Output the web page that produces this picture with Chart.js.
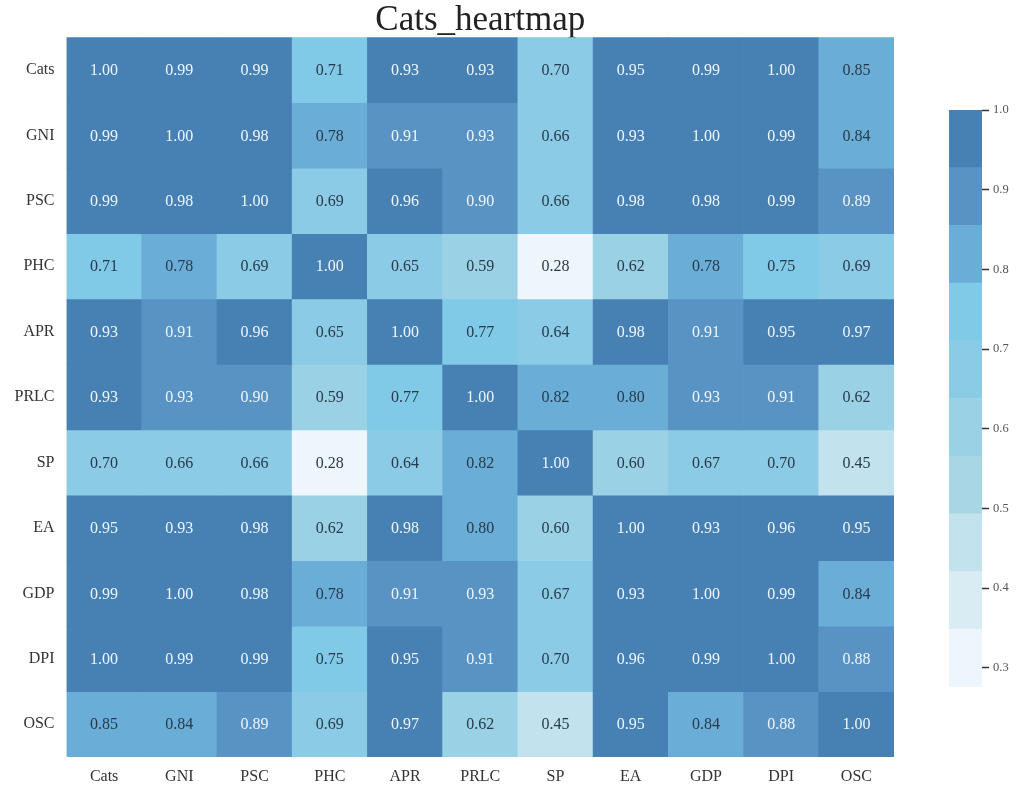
<!DOCTYPE html>
<html>
<head>
<meta charset="utf-8">
<script src="https://cdn.jsdelivr.net/npm/chart.js@4/dist/chart.umd.min.js"></script>
<style>
  html, body { margin: 0; padding: 0; background: #ffffff; }
  #wrap { position: relative; width: 1016px; height: 785px; overflow: hidden; }
  #heat { position: absolute; left: 0; top: 0; }
  #cbar { position: absolute; left: 900px; top: 0; }
</style>
</head>
<body>
<div id="wrap">
  <canvas id="heat" width="1016" height="785"></canvas>
  <canvas id="cbar" width="116" height="785"></canvas>
</div>
<script>
// Variable names (rows top to bottom, columns left to right)
const rowLabels = ['Cats', 'GNI', 'PSC', 'PHC', 'APR', 'PRLC', 'SP', 'EA', 'GDP', 'DPI', 'OSC'];
const colLabels = ['Cats', 'GNI', 'PSC', 'PHC', 'APR', 'PRLC', 'SP', 'EA', 'GDP', 'DPI', 'OSC'];

// Correlation coefficients, one array per row
const rowCats = [1.00, 0.99, 0.99, 0.712, 0.93, 0.93, 0.70, 0.95, 0.99, 1.00, 0.85];
const rowGNI  = [0.99, 1.00, 0.98, 0.784, 0.91, 0.926, 0.66, 0.93, 1.00, 0.99, 0.84];
const rowPSC  = [0.99, 0.98, 1.00, 0.69, 0.96, 0.90, 0.66, 0.98, 0.98, 0.99, 0.89];
const rowPHC  = [0.712, 0.784, 0.69, 1.00, 0.65, 0.59, 0.28, 0.62, 0.784, 0.75, 0.69];
const rowAPR  = [0.93, 0.91, 0.96, 0.65, 1.00, 0.77, 0.64, 0.98, 0.91, 0.95, 0.97];
const rowPRLC = [0.93, 0.926, 0.90, 0.59, 0.77, 1.00, 0.82, 0.80, 0.926, 0.91, 0.62];
const rowSP   = [0.70, 0.66, 0.66, 0.28, 0.64, 0.82, 1.00, 0.60, 0.67, 0.70, 0.45];
const rowEA   = [0.95, 0.93, 0.98, 0.62, 0.98, 0.80, 0.60, 1.00, 0.93, 0.96, 0.95];
const rowGDP  = [0.99, 1.00, 0.98, 0.784, 0.91, 0.926, 0.67, 0.93, 1.00, 0.99, 0.84];
const rowDPI  = [1.00, 0.99, 0.99, 0.75, 0.95, 0.91, 0.70, 0.96, 0.99, 1.00, 0.88];
const rowOSC  = [0.85, 0.84, 0.89, 0.69, 0.97, 0.62, 0.45, 0.95, 0.84, 0.88, 1.00];
const corrRows = [rowCats, rowGNI, rowPSC, rowPHC, rowAPR, rowPRLC, rowSP, rowEA, rowGDP, rowDPI, rowOSC];

// Discrete colour scale, lowest bin first
const binColors = ['#eef6fc', '#d9ecf4', '#c2e2ed', '#a8d6e5', '#9ad1e5',
                   '#8ccbe5', '#80c9e7', '#6aadd6', '#5993c3', '#4780b3'];
const colorMin = 0.276;
const colorMax = 1.0;
const colorbarTicks = [0.3, 0.4, 0.5, 0.6, 0.7, 0.8, 0.9, 1.0];

const SERIF = "'Liberation Serif', 'Times New Roman', 'DejaVu Serif', serif";
Chart.defaults.font.family = SERIF;

function binIndex(v) {
  const n = binColors.length;
  const k = Math.floor((v - colorMin) / (colorMax - colorMin) * n);
  return Math.max(0, Math.min(n - 1, k));
}
function cellColor(v) { return binColors[binIndex(v)]; }
function textColor(v) { return binIndex(v) >= 8 ? '#eef6fb' : '#283a4b'; }

// Writes each coefficient at the centre of its cell
const cellLabels = {
  id: 'cellLabels',
  afterDatasetsDraw(chart) {
    const ctx = chart.ctx;
    ctx.save();
    ctx.font = '16px ' + SERIF;
    ctx.textAlign = 'center';
    ctx.textBaseline = 'middle';
    chart.data.datasets.forEach((ds, i) => {
      const meta = chart.getDatasetMeta(i);
      meta.data.forEach((bar, j) => {
        const p = bar.getProps(['x', 'y', 'base'], true);
        const v = corrRows[i][j];
        ctx.fillStyle = textColor(v);
        ctx.fillText(v.toFixed(2), p.x, (p.y + p.base) / 2 + 1);
      });
    });
    ctx.restore();
  }
};

new Chart(document.getElementById('heat'), {
  type: 'bar',
  data: {
    labels: colLabels,
    datasets: corrRows.map((vals, i) => ({
      label: rowLabels[i],
      data: vals.map(() => [i, i + 1]),
      backgroundColor: vals.map(cellColor),
      borderWidth: 0,
      barPercentage: 1,
      categoryPercentage: 1
    }))
  },
  options: {
    responsive: false,
    devicePixelRatio: 1,
    animation: false,
    layout: { padding: { left: 0, right: 122, top: 0.5, bottom: 0 } },
    plugins: {
      legend: { display: false },
      tooltip: { enabled: false },
      title: {
        display: true,
        text: 'Cats_heartmap',
        fullSize: false,
        color: '#222222',
        font: { family: SERIF, size: 35, weight: 'normal', lineHeight: 0.96 },
        padding: { top: 3.2, bottom: 0 }
      }
    },
    scales: {
      x: {
        type: 'category',
        stacked: true,
        offset: true,
        grid: { display: false, drawTicks: false },
        border: { display: false },
        ticks: { color: '#333333', font: { family: SERIF, size: 16 }, padding: 10, maxRotation: 0 },
        afterFit(s) { s.height = 28; }
      },
      y: {
        type: 'linear',
        min: 0,
        max: 11,
        reverse: true,
        display: false
      },
      rowAxis: {
        type: 'category',
        labels: rowLabels,
        position: 'left',
        offset: true,
        grid: { display: false, drawTicks: false },
        border: { display: false },
        ticks: { color: '#333333', font: { family: SERIF, size: 16 }, padding: 12 },
        afterFit(s) { s.width = 66.5; }
      }
    }
  },
  plugins: [cellLabels]
});

// Colour bar: one floating bar per colour bin
const binEdges = binColors.map((c, k) => colorMin + (colorMax - colorMin) * k / binColors.length);
new Chart(document.getElementById('cbar'), {
  type: 'bar',
  data: {
    labels: [''],
    datasets: binColors.map((c, k) => ({
      data: [[binEdges[k], k === binColors.length - 1 ? colorMax : binEdges[k + 1]]],
      backgroundColor: c,
      borderWidth: 0,
      barPercentage: 1,
      categoryPercentage: 1
    }))
  },
  options: {
    responsive: false,
    devicePixelRatio: 1,
    animation: false,
    layout: { padding: { left: 49, right: 0, top: 110, bottom: 98 } },
    plugins: { legend: { display: false }, tooltip: { enabled: false }, title: { display: false } },
    scales: {
      x: { stacked: true, display: false },
      y: {
        type: 'linear',
        position: 'right',
        min: colorMin,
        max: colorMax,
        afterBuildTicks(s) { s.ticks = colorbarTicks.map(v => ({ value: v })); },
        ticks: {
          color: '#555555',
          font: { family: SERIF, size: 12.5 },
          padding: 4,
          callback: v => Number(v).toFixed(1)
        },
        grid: { drawOnChartArea: false, drawTicks: true, tickLength: 7, tickColor: '#333333', tickWidth: 1.5 },
        border: { display: false },
        afterFit(s) { s.width = 34; }
      }
    }
  }
});
</script>
</body>
</html>
